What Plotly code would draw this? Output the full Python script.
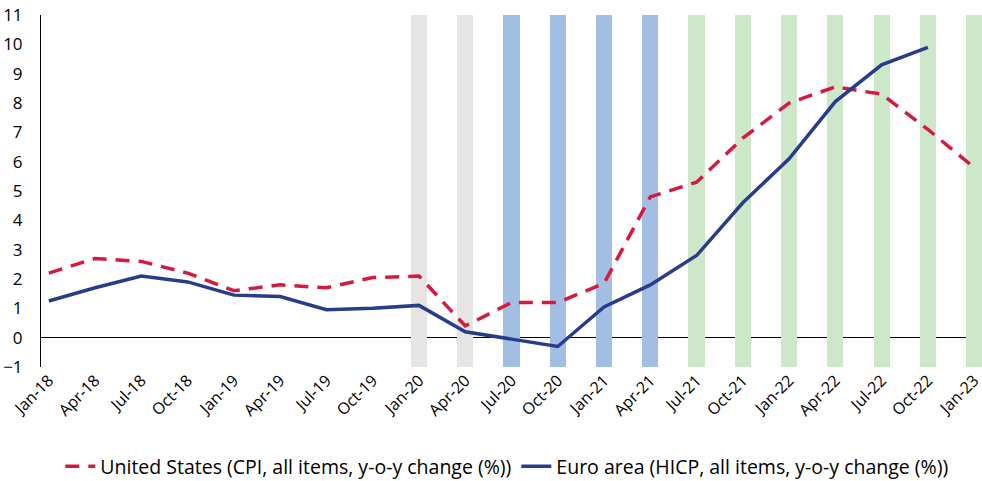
import plotly.graph_objects as go

categories = ["Jan-18", "Apr-18", "Jul-18", "Oct-18", "Jan-19", "Apr-19", "Jul-19", "Oct-19",
              "Jan-20", "Apr-20", "Jul-20", "Oct-20", "Jan-21", "Apr-21", "Jul-21", "Oct-21",
              "Jan-22", "Apr-22", "Jul-22", "Oct-22", "Jan-23"]

us_cpi = [2.2, 2.7, 2.6, 2.2, 1.6, 1.8, 1.7, 2.05, 2.1, 0.4, 1.2, 1.2, 1.85, 4.8, 5.3, 6.8,
          8.0, 8.55, 8.3, 7.1, 5.8]
euro_hicp = [1.25, 1.7, 2.1, 1.9, 1.45, 1.4, 0.95, 1.0, 1.1, 0.2, -0.05, -0.3, 1.05, 1.8, 2.8,
             4.6, 6.1, 8.05, 9.3, 9.9, None]

# shaded period bands (value = top of band, all start from axis minimum)
band_top = [None] * 8 + [11] * 13
band_colors = ["#ffffff"] * 8 + ["#E6E5E3"] * 2 + ["#A2BFE3"] * 4 + ["#CDE8C9"] * 7

y_min, y_max = -1, 11

fig = go.Figure()
fig.add_trace(go.Bar(
    x=categories,
    y=[None if v is None else v - y_min for v in band_top],
    base=y_min,
    marker=dict(color=band_colors, line=dict(width=0)),
    width=0.35,
    showlegend=False,
    hoverinfo="skip",
))
fig.add_trace(go.Scatter(
    x=categories, y=us_cpi, mode="lines",
    name="United States (CPI, all items, y-o-y change (%))",
    line=dict(color="#D7193F", width=3.5, dash="14px,9px"),
))
fig.add_trace(go.Scatter(
    x=categories, y=euro_hicp, mode="lines",
    name="Euro area (HICP, all items, y-o-y change (%))",
    line=dict(color="#283C8C", width=3.5),
))

font_family = "Open Sans, Roboto, sans-serif"

fig.update_layout(
    width=982, height=481,
    margin=dict(l=41, r=0, t=15, b=114, autoexpand=False),
    paper_bgcolor="white", plot_bgcolor="white",
    font=dict(family=font_family, size=16, color="#000000"),
    bargap=0,
    legend=dict(orientation="h", x=0.495, xanchor="center", yref="container",
                y=0.03, yanchor="middle",
                font=dict(size=19.5), traceorder="normal"),
    xaxis=dict(
        type="category", range=[-0.17, 20.17], tickangle=-45,
        showline=False, showgrid=False, ticks="", zeroline=False,
        tickfont=dict(size=16), automargin=False,
    ),
    yaxis=dict(
        range=[y_min, y_max], dtick=1, showgrid=False,
        showline=True, linecolor="#000000", linewidth=1,
        zeroline=True, zerolinecolor="#000000", zerolinewidth=1,
        ticks="", tickfont=dict(size=17), automargin=False, ticklabelstandoff=14,
    ),
)

# remove the default page margin so the figure sits at the window's top-left corner
fig.write_html("out.html", config={"displayModeBar": False},
               post_script="document.body.style.margin='0';")
